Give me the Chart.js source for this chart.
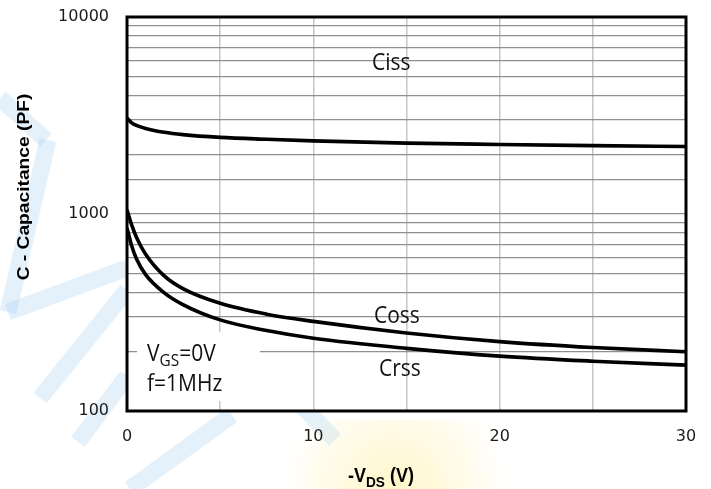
<!DOCTYPE html>
<html>
<head>
<meta charset="utf-8">
<script src="https://cdn.jsdelivr.net/npm/chart.js@4.4.1/dist/chart.umd.min.js"></script>
<style>
  html, body { margin: 0; padding: 0; background: #fff; }
  #wrap { width: 711px; height: 489px; }
</style>
</head>
<body>
<div id="wrap"><canvas id="cap-chart" width="711" height="489"></canvas></div>
<script>
// Capacitance vs -VDS
const vds  = [0, 0.25, 0.5, 1, 2, 3, 5, 7.5, 10, 15, 20, 25, 30];
const ciss = [3070, 2900, 2820, 2720, 2600, 2530, 2450, 2395, 2350, 2290, 2255, 2225, 2200];
const coss = [1050, 880, 765, 625, 485, 418, 352, 310, 285, 249, 225, 210, 200];
const crss = [850, 690, 595, 492, 398, 347, 290, 256, 234, 208, 190, 179, 171];
const xTickLabels = [0, 10, 20, 30];
const yTickLabels = [100, 1000, 10000];

function points(ys) {
    return vds.map(function(v, i) { return { x: v, y: ys[i] }; });
}

// draws text with a stretch, returns the drawn width
function stretchText(ctx, str, x, y, font, sx, sy) {
    ctx.save();
    ctx.translate(x, y);
    ctx.scale(sx, sy);
    ctx.font = font;
    ctx.textAlign = 'left';
    ctx.textBaseline = 'alphabetic';
    ctx.fillText(str, 0, 0);
    const w = ctx.measureText(str).width * sx;
    ctx.restore();
    return w;
}

const decor = {
    id: 'decor',
    beforeDraw(chart) {
        const ctx = chart.ctx;
        const a = chart.chartArea;
        ctx.save();
        ctx.fillStyle = '#fff';
        ctx.fillRect(0, 0, chart.width, chart.height);

        // faint logo watermark
        ctx.strokeStyle = 'rgba(150, 200, 240, 0.26)';
        ctx.lineWidth = 17;
        ctx.lineCap = 'butt';
        const strokes = [
            [[0, 98], [46, 140]],
            [[48, 140], [8, 312]],
            [[8, 312], [127, 268]],
            [[127, 290], [40, 398]],
            [[78, 442], [127, 376]],
            [[130, 489], [232, 415]],
            [[298, 402], [335, 440]]
        ];
        strokes.forEach(function(s) {
            ctx.beginPath();
            ctx.moveTo(s[0][0], s[0][1]);
            ctx.lineTo(s[1][0], s[1][1]);
            ctx.stroke();
        });
        const g = ctx.createRadialGradient(395, 489, 5, 395, 489, 115);
        g.addColorStop(0, 'rgba(255, 236, 140, 0.45)');
        g.addColorStop(1, 'rgba(255, 236, 140, 0)');
        ctx.fillStyle = g;
        ctx.fillRect(270, 420, 250, 69);

        ctx.fillStyle = '#fff';
        ctx.fillRect(a.left, a.top, a.right - a.left, a.bottom - a.top);
        ctx.restore();
    },
    beforeDatasetsDraw(chart) {
        // white box behind the test conditions
        const ctx = chart.ctx;
        ctx.save();
        ctx.fillStyle = '#fff';
        ctx.fillRect(137, 332, 123, 69);
        ctx.restore();
    },
    afterDatasetsDraw(chart) {
        const ctx = chart.ctx;
        const a = chart.chartArea;
        ctx.save();
        ctx.strokeStyle = '#000';
        ctx.lineWidth = 3;
        ctx.strokeRect(a.left, a.top, a.right - a.left, a.bottom - a.top);

        ctx.fillStyle = '#111';
        const big = '21px "Open Sans"';
        const small = '14px "Open Sans"';
        stretchText(ctx, 'Ciss', 372, 70, big, 1, 1.12);
        stretchText(ctx, 'Coss', 374, 323, big, 1, 1.12);
        stretchText(ctx, 'Crss', 379, 376, big, 1, 1.12);

        let x = 147;
        x += stretchText(ctx, 'V', x, 361, big, 1, 1.12);
        x += stretchText(ctx, 'GS', x, 366, small, 1.1, 1.1);
        stretchText(ctx, '=0V', x, 361, big, 1, 1.12);
        stretchText(ctx, 'f=1MHz', 147, 391, big, 1, 1.12);

        // x title
        ctx.fillStyle = '#000';
        x = 348;
        x += stretchText(ctx, '-V', x, 482, 'bold 18px "Liberation Sans"', 1, 1.12);
        x += stretchText(ctx, 'DS', x, 487, 'bold 13px "Liberation Sans"', 1.05, 1.1);
        stretchText(ctx, ' (V)', x, 482, 'bold 18px "Liberation Sans"', 1, 1.12);

        // y title
        ctx.translate(29, 187);
        ctx.rotate(-Math.PI / 2);
        ctx.scale(1.2, 1.0);
        ctx.font = 'bold 16px "Liberation Sans"';
        ctx.textAlign = 'center';
        ctx.textBaseline = 'alphabetic';
        ctx.fillText('C - Capacitance (PF)', 0, 0);
        ctx.restore();
    }
};

const curve = {
    borderColor: '#000',
    borderWidth: 3.6,
    pointRadius: 0,
    fill: false,
    cubicInterpolationMode: 'monotone'
};

new Chart(document.getElementById('cap-chart'), {
    type: 'line',
    data: {
        datasets: [
            Object.assign({ label: 'Ciss', data: points(ciss) }, curve),
            Object.assign({ label: 'Coss', data: points(coss) }, curve),
            Object.assign({ label: 'Crss', data: points(crss) }, curve)
        ]
    },
    options: {
        responsive: false,
        animation: false,
        layout: { padding: { top: 17, right: 25, left: 0, bottom: 0 } },
        plugins: {
            legend: { display: false },
            tooltip: { enabled: false }
        },
        scales: {
            x: {
                type: 'linear',
                min: 0,
                max: 30,
                afterFit: function(scale) {
                    scale.height = 78;
                    scale.paddingLeft = 0;
                    scale.paddingRight = 0;
                },
                border: { display: false },
                grid: { color: '#c6c6c6', lineWidth: 1.5, drawTicks: false },
                ticks: {
                    stepSize: 5,
                    padding: 16,
                    color: '#1a1a1a',
                    font: { family: 'DejaVu Sans', size: 16 },
                    maxRotation: 0,
                    autoSkip: false,
                    callback: function(value) {
                        return xTickLabels.includes(value) ? String(value) : '';
                    }
                }
            },
            y: {
                type: 'logarithmic',
                min: 100,
                max: 10000,
                afterFit: function(scale) {
                    scale.width = 127;
                    scale.paddingTop = 0;
                    scale.paddingBottom = 0;
                },
                border: { display: false },
                grid: { color: '#8f8f8f', lineWidth: 1.3, drawTicks: false },
                ticks: {
                    padding: 18,
                    color: '#1a1a1a',
                    font: { family: 'DejaVu Sans', size: 16 },
                    autoSkip: false,
                    callback: function(value) {
                        return yTickLabels.includes(value) ? String(value) : '';
                    }
                }
            }
        }
    },
    plugins: [decor]
});
</script>
</body>
</html>
